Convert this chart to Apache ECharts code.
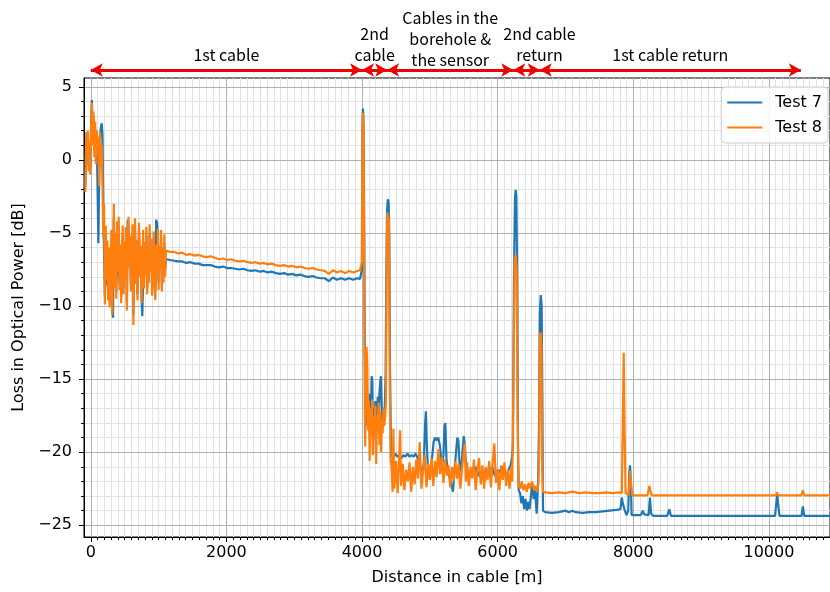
<!DOCTYPE html>
<html>
<head>
<meta charset="utf-8">
<script src="https://cdn.jsdelivr.net/npm/echarts@6/dist/echarts.min.js"></script>
<style>
html, body { margin: 0; padding: 0; background: #fff; }
#chart { width: 830px; height: 592px; }
</style>
</head>
<body>
<div id="chart"></div>
<script>
// tick labels
var xMajorTicks = [0, 2000, 4000, 6000, 8000, 10000];
var yMajorTicks = [-25, -20, -15, -10, -5, 0, 5];

// cable sections drawn as arrows above the plot [m]
var sectionStart = [0, 4000, 4370, 6230, 6620];
var sectionEnd = [4000, 4370, 6230, 6620, 10470];
var sectionNames = ['1st cable', '2nd\ncable', 'Cables in the\nborehole &\nthe sensor', '2nd cable\nreturn', '1st cable return'];

// [distance m, loss dB]
var test7 = [
    [-80,-1.8],[-68,1.5],[-56,0.9],[-44,1.6],[-32,-0.4],[-20,0.8],[-8,-0.6],[4,2.4],[16,4.1],[28,1.4],[40,3.0],[52,0.6],[64,2.2],[76,-0.1],[88,1.5],[100,-2.0],[112,-5.7],[124,-1.0],[136,1.4],[148,2.2],[160,2.5],[172,1.8],[184,-3.0],[196,-6.5],[208,-9.4],[220,-5.0],[232,-8.6],[244,-6.0],[256,-9.2],[268,-6.5],[280,-9.8],[292,-7.8],[304,-5.5],[316,-10.2],[328,-10.8],[340,-4.0],[352,-8.3],[364,-5.6],[376,-9.0],[388,-4.8],[400,-8.0],[412,-4.6],[424,-8.5],[436,-6.2],[448,-9.4],[460,-6.8],[472,-5.0],[484,-8.8],[496,-6.1],[508,-7.7],[520,-5.1],[532,-9.8],[544,-4.1],[556,-4.5],[568,-7.0],[580,-5.8],[592,-8.6],[604,-7.2],[616,-5.0],[628,-10.6],[640,-7.5],[652,-4.6],[664,-8.0],[676,-6.0],[688,-9.2],[700,-6.7],[712,-5.0],[724,-7.6],[736,-6.4],[748,-9.4],[760,-10.7],[772,-8.0],[784,-8.2],[796,-6.2],[808,-7.5],[820,-5.2],[832,-8.8],[844,-6.6],[856,-8.0],[868,-5.0],[880,-7.2],[892,-6.0],[904,-8.8],[916,-6.8],[928,-5.5],[940,-8.2],[952,-9.0],[964,-4.1],[976,-4.3],[988,-5.2],[1000,-8.4],[1012,-6.4],[1024,-7.0],[1036,-5.4],[1048,-8.6],[1060,-6.5],[1072,-8.0],[1084,-5.7],[1096,-7.6],[1108,-6.8],
    [1170,-6.85],[1230,-6.9],[1290,-6.95],[1350,-6.95],[1410,-7.05],[1470,-7.0],[1530,-7.1],[1590,-7.1],[1650,-7.2],[1710,-7.2],[1770,-7.2],[1830,-7.3],[1890,-7.35],[1950,-7.3],[2010,-7.4],[2070,-7.4],[2130,-7.45],[2190,-7.5],[2250,-7.45],[2310,-7.55],[2370,-7.6],[2430,-7.55],[2490,-7.65],[2550,-7.6],[2610,-7.7],[2670,-7.65],[2730,-7.75],[2790,-7.8],[2850,-7.75],[2910,-7.85],[2970,-7.8],[3030,-7.9],[3090,-7.85],[3150,-7.95],[3210,-8.0],[3270,-7.95],[3330,-8.05],[3390,-8.1],[3450,-8.1],[3510,-8.3],[3570,-8.05],[3630,-8.2],[3690,-8.1],[3750,-8.2],[3810,-8.1],[3870,-8.2],[3930,-8.1],[3970,-8.15],
    [3985,-8.15],[3998,-7.5],[4005,2.0],[4012,3.5],[4020,3.0],[4030,-3.0],[4040,-13.0],[4052,-17.5],[4064,-16.8],[4076,-18.2],[4088,-17.0],[4100,-18.4],[4112,-16.0],[4128,-17.8],[4142,-14.8],[4152,-15.2],[4162,-20.1],[4172,-17.0],[4184,-18.5],[4196,-16.5],[4208,-18.0],[4220,-17.2],[4232,-16.2],[4244,-18.6],[4256,-16.0],[4268,-15.2],[4278,-14.8],[4288,-16.5],[4300,-18.0],[4312,-17.0],[4324,-17.6],[4336,-16.8],[4348,-14.5],[4358,-8.0],[4368,-3.5],[4380,-2.7],[4392,-2.9],[4402,-5.0],[4412,-14.0],[4424,-19.0],[4436,-20.2],
    [4460,-20.4],[4490,-20.1],[4520,-20.3],[4550,-20.2],[4580,-20.4],[4610,-20.2],[4640,-20.3],[4670,-20.1],[4700,-20.3],[4730,-20.2],[4760,-20.3],[4790,-20.1],[4820,-20.4],[4850,-21.0],[4880,-21.3],[4910,-20.8],[4930,-18.0],[4942,-17.2],[4955,-19.5],[4975,-21.5],[5000,-21.2],[5030,-20.5],[5055,-19.3],[5075,-19.0],[5100,-19.2],[5125,-19.0],[5150,-19.6],[5175,-21.0],[5200,-20.2],[5215,-18.2],[5228,-18.0],[5245,-20.5],[5270,-21.4],[5300,-21.9],[5325,-22.4],[5340,-22.7],[5360,-21.5],[5385,-20.0],[5405,-19.0],[5420,-19.2],[5440,-21.0],[5460,-21.3],[5480,-20.0],[5500,-18.9],[5515,-19.5],[5535,-21.0],[5560,-21.3],[5590,-21.6],[5620,-21.2],[5650,-21.5],[5680,-21.0],[5710,-21.4],[5740,-21.7],[5770,-21.2],[5800,-21.5],[5830,-21.1],[5860,-21.6],[5890,-21.3],[5920,-21.0],[5950,-21.5],[5980,-21.7],[6010,-21.2],[6040,-21.4],[6070,-21.0],[6100,-21.3],[6130,-21.6],[6160,-21.2],[6190,-20.9],[6210,-20.4],[6225,-19.5],[6240,-8.0],[6255,-2.6],[6265,-2.05],[6275,-2.5],[6288,-8.0],[6300,-20.0],[6310,-22.6],
    [6330,-22.8],[6350,-23.5],[6370,-23.0],[6390,-23.9],[6410,-23.2],[6430,-24.0],[6450,-23.4],[6470,-23.9],[6490,-23.0],[6510,-22.1],[6530,-23.2],[6550,-22.6],[6575,-24.2],[6595,-22.0],[6610,-18.0],[6622,-10.5],[6635,-9.25],[6648,-10.0],[6658,-16.0],[6668,-24.0],
    [6700,-24.1],[6800,-24.15],[6900,-24.1],[7000,-24.0],[7050,-24.1],[7100,-24.0],[7150,-24.1],[7250,-24.15],[7350,-24.1],[7450,-24.1],[7550,-24.05],[7650,-24.0],[7750,-23.95],[7810,-23.9],[7830,-23.1],[7845,-23.5],[7875,-24.0],[7900,-24.3],[7925,-24.0],[7940,-21.5],[7951,-20.9],[7962,-21.8],[7975,-24.3],[8050,-24.3],[8110,-24.3],[8140,-24.0],[8160,-24.25],[8225,-24.3],[8245,-23.1],[8262,-24.2],[8290,-24.35],[8500,-24.35],[8530,-23.9],[8555,-24.35],[8880,-24.35],[8907,-24.25],[8930,-24.35],[9500,-24.35],[10090,-24.35],[10110,-23.4],[10122,-22.9],[10135,-23.5],[10155,-24.35],[10480,-24.35],[10500,-23.7],[10520,-24.35],[10900,-24.35]
];

var test8 = [
    [-80,-2.2],[-68,1.9],[-56,0.6],[-44,2.0],[-32,-0.8],[-20,1.2],[-8,-1.0],[4,2.1],[16,3.9],[28,1.0],[40,3.3],[52,0.2],[64,2.6],[76,-0.3],[88,2.0],[100,0.4],[112,1.6],[124,-1.8],[136,1.9],[148,-0.5],[160,1.0],[172,-1.5],[184,-5.3],[196,-3.0],[208,-9.9],[220,-4.5],[232,-8.2],[244,-5.5],[256,-9.6],[268,-6.0],[280,-10.1],[292,-7.2],[304,-4.8],[316,-10.6],[328,-6.5],[340,-3.0],[352,-8.8],[364,-5.0],[376,-9.5],[388,-4.2],[400,-7.6],[412,-3.9],[424,-8.9],[436,-5.8],[448,-9.8],[460,-6.3],[472,-4.5],[484,-9.2],[496,-5.6],[508,-8.1],[520,-4.6],[532,-10.3],[544,-6.0],[556,-3.9],[568,-7.4],[580,-5.2],[592,-9.0],[604,-6.8],[616,-4.4],[628,-11.3],[640,-7.0],[652,-4.0],[664,-8.5],[676,-5.5],[688,-9.6],[700,-6.2],[712,-4.3],[724,-8.0],[736,-5.9],[748,-9.8],[760,-7.1],[772,-4.8],[784,-8.8],[796,-5.6],[808,-7.9],[820,-4.6],[832,-9.2],[844,-6.1],[856,-8.4],[868,-4.4],[880,-7.6],[892,-5.4],[904,-9.3],[916,-6.3],[928,-4.9],[940,-8.6],[952,-9.6],[964,-5.8],[976,-7.8],[988,-4.7],[1000,-8.9],[1012,-5.9],[1024,-7.4],[1036,-4.8],[1048,-9.0],[1060,-6.0],[1072,-8.4],[1084,-5.1],[1096,-8.0],[1108,-6.2],
    [1170,-6.3],[1230,-6.3],[1290,-6.4],[1350,-6.35],[1410,-6.5],[1470,-6.45],[1530,-6.55],[1590,-6.5],[1650,-6.6],[1710,-6.65],[1770,-6.6],[1830,-6.7],[1890,-6.8],[1950,-6.75],[2010,-6.85],[2070,-6.8],[2130,-6.9],[2190,-6.95],[2250,-6.9],[2310,-7.0],[2370,-7.05],[2430,-7.0],[2490,-7.1],[2550,-7.05],[2610,-7.15],[2670,-7.1],[2730,-7.2],[2790,-7.25],[2850,-7.2],[2910,-7.3],[2970,-7.25],[3030,-7.35],[3090,-7.3],[3150,-7.4],[3210,-7.45],[3270,-7.4],[3330,-7.5],[3390,-7.55],[3450,-7.6],[3510,-7.8],[3570,-7.55],[3630,-7.7],[3690,-7.6],[3750,-7.75],[3810,-7.6],[3870,-7.7],[3930,-7.6],[3970,-7.55],
    [3985,-7.6],[3998,-7.0],[4005,1.5],[4012,3.2],[4020,2.5],[4030,-5.0],[4040,-17.0],[4046,-19.6],[4056,-15.0],[4066,-12.8],[4078,-14.0],[4088,-18.5],[4100,-16.5],[4112,-20.6],[4124,-17.0],[4136,-18.8],[4148,-16.4],[4160,-20.2],[4172,-17.5],[4184,-19.0],[4196,-16.8],[4208,-20.8],[4220,-17.5],[4232,-18.6],[4244,-16.6],[4256,-19.5],[4268,-17.2],[4280,-20.0],[4292,-17.8],[4304,-18.7],[4316,-17.0],[4328,-18.2],[4340,-17.6],[4352,-16.5],[4362,-8.0],[4372,-3.6],[4384,-3.5],[4396,-4.2],[4408,-15.0],[4422,-20.5],
    [4436,-21.0],[4450,-22.7],[4462,-18.4],[4475,-22.5],[4500,-20.6],[4525,-22.8],[4550,-20.0],[4562,-18.5],[4575,-22.3],[4600,-20.8],[4625,-22.6],[4650,-21.2],[4675,-22.0],[4700,-20.7],[4725,-22.7],[4750,-21.0],[4775,-22.2],[4800,-20.5],[4825,-21.8],[4850,-19.3],[4875,-22.5],[4900,-21.3],[4925,-20.2],[4950,-22.4],[4975,-20.8],[5000,-21.9],[5025,-20.4],[5050,-22.3],[5075,-20.6],[5100,-21.7],[5125,-19.8],[5150,-21.5],[5175,-20.3],[5200,-22.1],[5225,-20.5],[5250,-21.6],[5275,-20.9],[5300,-22.4],[5325,-21.0],[5350,-22.0],[5375,-20.6],[5400,-21.8],[5425,-20.8],[5450,-22.5],[5475,-21.1],[5500,-20.0],[5515,-19.4],[5530,-22.0],[5550,-20.7],[5575,-22.3],[5600,-21.0],[5625,-21.8],[5650,-20.5],[5675,-22.6],[5700,-21.2],[5725,-20.4],[5750,-22.2],[5775,-20.9],[5800,-22.5],[5825,-21.0],[5850,-21.9],[5875,-20.6],[5900,-22.4],[5925,-20.8],[5950,-19.4],[5975,-22.1],[6000,-21.2],[6025,-22.6],[6050,-20.9],[6075,-21.9],[6100,-20.7],[6125,-22.3],[6150,-21.2],[6175,-22.5],[6200,-21.0],[6215,-22.0],[6235,-14.0],[6250,-6.8],[6265,-6.5],[6280,-7.5],[6295,-18.0],[6308,-22.2],
    [6330,-22.5],[6355,-22.0],[6380,-22.6],[6405,-22.2],[6430,-22.7],[6455,-22.1],[6480,-22.5],[6505,-22.0],[6520,-21.9],[6540,-22.6],[6560,-22.3],[6580,-22.7],[6600,-22.2],[6612,-20.0],[6622,-12.0],[6634,-11.8],[6646,-13.0],[6656,-21.0],[6668,-22.7],
    [6700,-22.75],[6800,-22.8],[6900,-22.75],[7000,-22.8],[7100,-22.7],[7200,-22.8],[7300,-22.75],[7400,-22.8],[7500,-22.8],[7600,-22.75],[7700,-22.8],[7790,-22.75],[7830,-22.8],[7845,-18.0],[7858,-13.2],[7870,-18.0],[7885,-22.8],[7930,-22.9],[7945,-21.8],[7955,-21.3],[7965,-22.0],[7985,-22.95],[8100,-22.95],[8210,-22.95],[8228,-22.5],[8238,-22.3],[8250,-22.6],[8270,-22.95],[8500,-22.95],[9000,-22.95],[9500,-22.95],[10000,-22.95],[10100,-22.95],[10120,-22.75],[10140,-22.95],[10480,-22.95],[10500,-22.6],[10520,-22.95],[10900,-22.95]
];

// minor ticks: every 100 m and every 1 dB
var xMinorTicks = [];
for (var i = 100; i < 10900; i += 100) {
    if (i % 2000 !== 0) xMinorTicks.push(i);
}
var yMinorTicks = [];
for (var j = -25; j <= 5; j++) {
    if (j % 5 !== 0) yMinorTicks.push(j);
}

var font = 'DejaVu Sans';
var xMin = -100, xMax = 10900;

function minusSign(v) {
    return String(v).replace('-', '\u2212');
}

// arrows + labels for each cable section
function sectionLines() {
    var data = [];
    for (var k = 0; k < sectionNames.length; k++) {
        var start = {coord: [sectionStart[k], 0.5], name: sectionNames[k]};
        if (k === 2) start.label = {offset: [0, 5]};   // 3-line label sits lower
        if (k === 3) start.label = {offset: [13, 0]};
        data.push([start, {coord: [sectionEnd[k], 0.5]}]);
    }
    return data;
}

var chart = echarts.init(document.getElementById('chart'));
var option = {
    animation: false,
    textStyle: {fontFamily: font},
    grid: [
        {left: 84, right: -2, top: 78, bottom: 55, show: true, borderColor: '#000', borderWidth: 1, backgroundColor: 'transparent'},
        {left: 84, right: -2, top: 60, height: 20}
    ],
    legend: {
        data: ['Test 7', 'Test 8'],
        orient: 'vertical',
        right: 2,
        top: 87,
        icon: 'rect',
        itemWidth: 35,
        itemHeight: 2,
        itemGap: 6,
        padding: [6, 6, 6, 6],
        backgroundColor: 'rgba(255,255,255,0.85)',
        borderColor: '#cccccc',
        borderWidth: 1,
        borderRadius: 4,
        selectedMode: false,
        textStyle: {fontFamily: font, fontSize: 16, color: '#000', lineHeight: 19, padding: [0, 0, 0, 8]}
    },
    xAxis: [
        {
            gridIndex: 0, type: 'value', position: 'bottom', min: xMin, max: xMax, z: 1,
            name: 'Distance in cable [m]', nameLocation: 'middle', nameGap: 33,
            nameTextStyle: {fontFamily: font, fontSize: 16, color: '#000'},
            axisLine: {show: true, onZero: false, lineStyle: {color: '#000', width: 1}},
            axisTick: {show: true, customValues: xMajorTicks, length: 5, lineStyle: {color: '#000'}},
            axisLabel: {
                customValues: xMajorTicks, margin: 8, fontSize: 16, color: '#000', fontFamily: font,
                formatter: function (v) { return String(v); }
            },
            splitLine: {show: true, lineStyle: {color: '#b0b0b0', width: 1}}
        },
        {
            gridIndex: 0, type: 'value', position: 'bottom', min: xMin, max: xMax, z: 0,
            axisLine: {show: false, onZero: false},
            axisTick: {show: true, customValues: xMinorTicks, length: 3, lineStyle: {color: '#000'}},
            axisLabel: {show: false},
            splitLine: {show: true, lineStyle: {color: '#e2e2e2', width: 1}}
        },
        {gridIndex: 1, type: 'value', min: xMin, max: xMax, show: false}
    ],
    yAxis: [
        {
            gridIndex: 0, type: 'value', position: 'left', min: -25.8, max: 5.6, z: 1,
            name: 'Loss in Optical Power [dB]', nameLocation: 'middle', nameGap: 52, nameRotate: 90,
            nameTextStyle: {fontFamily: font, fontSize: 16, color: '#000'},
            axisLine: {show: true, onZero: false, lineStyle: {color: '#000', width: 1}},
            axisTick: {show: true, customValues: yMajorTicks, length: 5, lineStyle: {color: '#000'}},
            axisLabel: {customValues: yMajorTicks, margin: 12, fontSize: 16, color: '#000', fontFamily: font, formatter: minusSign},
            splitLine: {show: true, lineStyle: {color: '#b0b0b0', width: 1}}
        },
        {
            gridIndex: 0, type: 'value', position: 'left', min: -25.8, max: 5.6, z: 0,
            axisLine: {show: false, onZero: false},
            axisTick: {show: true, customValues: yMinorTicks, length: 3, lineStyle: {color: '#000'}},
            axisLabel: {show: false},
            splitLine: {show: true, lineStyle: {color: '#e2e2e2', width: 1}}
        },
        {gridIndex: 1, type: 'value', min: 0, max: 1, show: false}
    ],
    series: [
        {
            name: 'Test 7', type: 'line', xAxisIndex: 0, yAxisIndex: 0, data: test7,
            symbol: 'none', z: 3,
            lineStyle: {color: '#1f77b4', width: 2.2},
            itemStyle: {color: '#1f77b4'}
        },
        {
            name: 'Test 8', type: 'line', xAxisIndex: 0, yAxisIndex: 0, data: test8,
            symbol: 'none', z: 4,
            lineStyle: {color: '#ff7f0e', width: 2.2},
            itemStyle: {color: '#ff7f0e'}
        },
        {
            name: 'sections', type: 'line', xAxisIndex: 2, yAxisIndex: 2, data: [],
            markLine: {
                silent: true,
                symbol: ['arrow', 'arrow'],
                symbolSize: [10, 12],
                lineStyle: {color: '#ee0000', width: 3, type: 'solid'},
                label: {
                    show: true, position: 'middle', distance: 5, formatter: '{b}',
                    fontFamily: 'Noto Sans CJK JP', fontSize: 16, lineHeight: 21, color: '#000'
                },
                data: sectionLines()
            }
        }
    ]
};
chart.setOption(option);
</script>
</body>
</html>
